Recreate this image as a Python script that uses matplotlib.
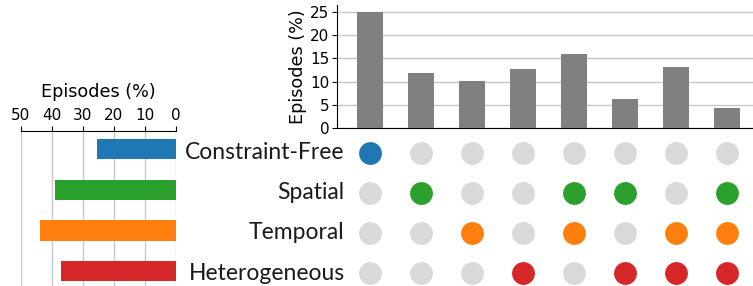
import matplotlib
matplotlib.use('Agg')
import matplotlib.pyplot as plt

# intersections (columns) and their share of episodes
intersection_values = [25.0, 11.9, 10.1, 12.7, 15.9, 6.25, 13.1, 4.3]
# set membership per column, rows in order of set_names
membership = [
    [1, 0, 0, 0, 0, 0, 0, 0],  # Constraint-Free
    [0, 1, 0, 0, 1, 1, 0, 1],  # Spatial
    [0, 0, 1, 0, 1, 0, 1, 1],  # Temporal
    [0, 0, 0, 1, 0, 1, 1, 1],  # Heterogeneous
]
set_names = ['Constraint-Free', 'Spatial', 'Temporal', 'Heterogeneous']
set_sizes = [25.4, 38.9, 43.8, 37.0]
set_colors = ['#1f77b4', '#2ca02c', '#ff7f0e', '#d62728']
inactive = '#d9d9d9'
grid_c = '#c8c8c8'

W, H = 753, 286
def rect(l, t, r, b):
    return [l / W, 1 - b / H, (r - l) / W, (b - t) / H]

fig = plt.figure(figsize=(W / 100, H / 100), dpi=100)

# top: intersection bars
ax_bar = fig.add_axes(rect(337, 5, 753, 128))
xs = list(range(len(intersection_values)))
ax_bar.bar(xs, intersection_values, width=0.51, color='#808080', zorder=3)
ax_bar.set_xlim(-0.65, 7.5)
ax_bar.set_ylim(0, 26.5)
ax_bar.set_yticks([0, 5, 10, 15, 20, 25])
ax_bar.set_xticks([])
ax_bar.grid(axis='y', color=grid_c, linewidth=1, zorder=0)
for s in ['top', 'right']:
    ax_bar.spines[s].set_visible(False)
ax_bar.tick_params(axis='y', labelsize=11, length=3.5, pad=2)
ax_bar.set_ylabel('Episodes (%)', fontsize=12.7, labelpad=2)

# matrix of dots
ax_mat = fig.add_axes(rect(337, 133, 753, 286))
ax_mat.set_xlim(-0.65, 7.5)
ax_mat.set_ylim(3.325, -0.5)
for r, row in enumerate(membership):
    for c, on in enumerate(row):
        ax_mat.scatter(c, r, s=270, color=set_colors[r] if on else inactive,
                       linewidths=0, zorder=3)
    ax_mat.text(-0.5, r, set_names[r], ha='right', va='center',
                fontsize=16.5, family=['Lato', 'DejaVu Sans'],
                color='#1a1a1a')
ax_mat.axis('off')

# left: set sizes
ax_set = fig.add_axes(rect(20.7, 131, 175.7, 286))
ys = list(range(len(set_sizes)))
ax_set.barh(ys, set_sizes, height=0.5, color=set_colors, zorder=3)
ax_set.set_xlim(50, 0)
ax_set.set_ylim(3.37, -0.45)
ax_set.set_xticks([50, 40, 30, 20, 10, 0])
ax_set.set_yticks([])
ax_set.xaxis.tick_top()
ax_set.xaxis.set_label_position('top')
ax_set.set_xlabel('Episodes (%)', fontsize=12.7, labelpad=8)
ax_set.tick_params(axis='x', labelsize=11, length=3.5, pad=2)
ax_set.grid(axis='x', color=grid_c, linewidth=1, zorder=0)
for s in ['bottom', 'left', 'right']:
    ax_set.spines[s].set_visible(False)

fig.savefig('out.png', dpi=100)
